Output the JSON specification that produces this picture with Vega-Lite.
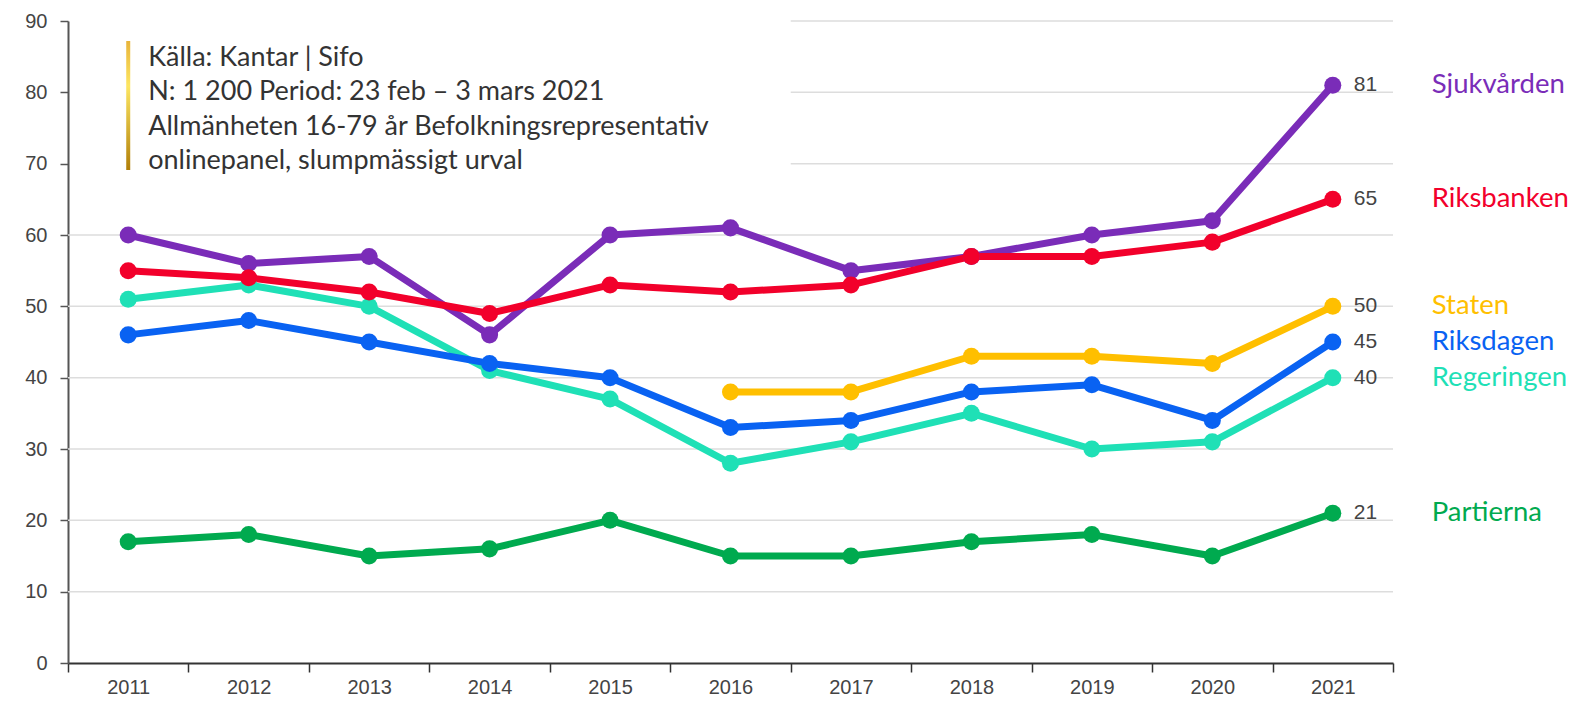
{
  "$schema": "https://vega.github.io/schema/vega-lite/v6.json",
  "width": 1325,
  "height": 642,
  "autosize": {"type": "none"},
  "padding": {"left": 68, "top": 21, "right": 182, "bottom": 40},
  "background": "white",
  "config": {"view": {"stroke": null}},
  "datasets": {
    "series": [
      {"year": 2011, "serie": "Sjukvården", "value": 60},
      {"year": 2012, "serie": "Sjukvården", "value": 56},
      {"year": 2013, "serie": "Sjukvården", "value": 57},
      {"year": 2014, "serie": "Sjukvården", "value": 46},
      {"year": 2015, "serie": "Sjukvården", "value": 60},
      {"year": 2016, "serie": "Sjukvården", "value": 61},
      {"year": 2017, "serie": "Sjukvården", "value": 55},
      {"year": 2018, "serie": "Sjukvården", "value": 57},
      {"year": 2019, "serie": "Sjukvården", "value": 60},
      {"year": 2020, "serie": "Sjukvården", "value": 62},
      {"year": 2021, "serie": "Sjukvården", "value": 81},
      {"year": 2011, "serie": "Regeringen", "value": 51},
      {"year": 2012, "serie": "Regeringen", "value": 53},
      {"year": 2013, "serie": "Regeringen", "value": 50},
      {"year": 2014, "serie": "Regeringen", "value": 41},
      {"year": 2015, "serie": "Regeringen", "value": 37},
      {"year": 2016, "serie": "Regeringen", "value": 28},
      {"year": 2017, "serie": "Regeringen", "value": 31},
      {"year": 2018, "serie": "Regeringen", "value": 35},
      {"year": 2019, "serie": "Regeringen", "value": 30},
      {"year": 2020, "serie": "Regeringen", "value": 31},
      {"year": 2021, "serie": "Regeringen", "value": 40},
      {"year": 2016, "serie": "Staten", "value": 38},
      {"year": 2017, "serie": "Staten", "value": 38},
      {"year": 2018, "serie": "Staten", "value": 43},
      {"year": 2019, "serie": "Staten", "value": 43},
      {"year": 2020, "serie": "Staten", "value": 42},
      {"year": 2021, "serie": "Staten", "value": 50},
      {"year": 2011, "serie": "Riksdagen", "value": 46},
      {"year": 2012, "serie": "Riksdagen", "value": 48},
      {"year": 2013, "serie": "Riksdagen", "value": 45},
      {"year": 2014, "serie": "Riksdagen", "value": 42},
      {"year": 2015, "serie": "Riksdagen", "value": 40},
      {"year": 2016, "serie": "Riksdagen", "value": 33},
      {"year": 2017, "serie": "Riksdagen", "value": 34},
      {"year": 2018, "serie": "Riksdagen", "value": 38},
      {"year": 2019, "serie": "Riksdagen", "value": 39},
      {"year": 2020, "serie": "Riksdagen", "value": 34},
      {"year": 2021, "serie": "Riksdagen", "value": 45},
      {"year": 2011, "serie": "Riksbanken", "value": 55},
      {"year": 2012, "serie": "Riksbanken", "value": 54},
      {"year": 2013, "serie": "Riksbanken", "value": 52},
      {"year": 2014, "serie": "Riksbanken", "value": 49},
      {"year": 2015, "serie": "Riksbanken", "value": 53},
      {"year": 2016, "serie": "Riksbanken", "value": 52},
      {"year": 2017, "serie": "Riksbanken", "value": 53},
      {"year": 2018, "serie": "Riksbanken", "value": 57},
      {"year": 2019, "serie": "Riksbanken", "value": 57},
      {"year": 2020, "serie": "Riksbanken", "value": 59},
      {"year": 2021, "serie": "Riksbanken", "value": 65},
      {"year": 2011, "serie": "Partierna", "value": 17},
      {"year": 2012, "serie": "Partierna", "value": 18},
      {"year": 2013, "serie": "Partierna", "value": 15},
      {"year": 2014, "serie": "Partierna", "value": 16},
      {"year": 2015, "serie": "Partierna", "value": 20},
      {"year": 2016, "serie": "Partierna", "value": 15},
      {"year": 2017, "serie": "Partierna", "value": 15},
      {"year": 2018, "serie": "Partierna", "value": 17},
      {"year": 2019, "serie": "Partierna", "value": 18},
      {"year": 2020, "serie": "Partierna", "value": 15},
      {"year": 2021, "serie": "Partierna", "value": 21}
    ],
    "grid": [
      {"year": 2011, "value": 10},
      {"year": 2011, "value": 20},
      {"year": 2011, "value": 30},
      {"year": 2011, "value": 40},
      {"year": 2011, "value": 50},
      {"year": 2011, "value": 60},
      {"year": 2017, "value": 70},
      {"year": 2017, "value": 80},
      {"year": 2017, "value": 90}
    ],
    "note": [
      {"year": 2011, "value": 86.7, "low": 69.1, "high": 87.2, "text": "Källa: Kantar | Sifo\nN: 1 200 Period: 23 feb – 3 mars 2021\nAllmänheten 16-79 år Befolkningsrepresentativ\nonlinepanel, slumpmässigt urval"}
    ]
  },
  "encoding": {
    "x": {
      "field": "year",
      "type": "ordinal",
      "scale": {"domain": [2011, 2012, 2013, 2014, 2015, 2016, 2017, 2018, 2019, 2020, 2021], "type": "band", "paddingInner": 0, "paddingOuter": 0},
      "axis": {
        "title": null,
        "tickBand": "extent",
        "grid": false,
        "labelAngle": 0,
        "domainColor": "#333333",
        "domainWidth": 2,
        "tickColor": "#333333",
        "tickWidth": 1.5,
        "tickSize": 9,
        "labelFont": "Liberation Sans",
        "labelFontSize": 20,
        "labelColor": "#444444",
        "labelPadding": 5
      }
    }
  },
  "layer": [
    {
      "data": {"name": "grid"},
      "mark": {"type": "rule", "color": "#DDDDDD", "strokeWidth": 1.5},
      "encoding": {
        "x": {"field": "year", "type": "ordinal", "bandPosition": 0},
        "x2": {"value": "width"},
        "y": {"field": "value", "type": "quantitative", "scale": {"domain": [0, 90], "nice": false},
          "axis": {
            "title": null,
            "values": [0, 10, 20, 30, 40, 50, 60, 70, 80, 90],
            "grid": false,
            "domainColor": "#555555",
            "domainWidth": 2,
            "tickColor": "#555555",
            "tickWidth": 1.5,
            "tickSize": 8,
            "labelFont": "Liberation Sans",
            "labelFontSize": 20,
            "labelColor": "#444444",
            "labelPadding": 13
          }
        }
      }
    },
    {
      "data": {"name": "note"},
      "mark": {"type": "bar", "width": 4, "color": {
        "gradient": "linear", "x1": 0, "y1": 0, "x2": 0, "y2": 1,
        "stops": [
          {"offset": 0, "color": "#E8B43A"},
          {"offset": 0.35, "color": "#FDE662"},
          {"offset": 1, "color": "#B07E08"}
        ]
      }},
      "encoding": {
        "y": {"field": "low", "type": "quantitative"},
        "y2": {"field": "high"}
      }
    },
    {
      "data": {"name": "note"},
      "mark": {"type": "text", "align": "left", "baseline": "top", "dx": 20, "lineBreak": "\n", "lineHeight": 34.5, "font": "Lato", "fontSize": 27, "color": "#333333"},
      "encoding": {
        "y": {"field": "value", "type": "quantitative"},
        "text": {"field": "text", "type": "nominal"}
      }
    },
    {
      "data": {"name": "series"},
      "mark": {"type": "line", "strokeWidth": 7, "strokeJoin": "round"},
      "encoding": {
        "y": {"field": "value", "type": "quantitative"},
        "color": {"field": "serie", "type": "nominal", "legend": null,
          "scale": {
            "domain": ["Sjukvården", "Regeringen", "Staten", "Riksdagen", "Riksbanken", "Partierna"],
            "range": ["#7A2CB8", "#1FE0B6", "#FFBF00", "#0962F2", "#F2002B", "#00AA4F"]
          }
        }
      }
    },
    {
      "data": {"name": "series"},
      "mark": {"type": "circle", "size": 290, "opacity": 1},
      "encoding": {
        "y": {"field": "value", "type": "quantitative"},
        "color": {"field": "serie", "type": "nominal", "legend": null}
      }
    },
    {
      "data": {"name": "series"},
      "transform": [{"filter": "datum.year == 2021"}],
      "mark": {"type": "text", "align": "left", "baseline": "middle", "dx": 21, "font": "Liberation Sans", "fontSize": 21, "color": "#444444"},
      "encoding": {
        "y": {"field": "value", "type": "quantitative"},
        "text": {"field": "value", "type": "quantitative"}
      }
    },
    {
      "data": {"name": "series"},
      "transform": [{"filter": "datum.year == 2021"}],
      "mark": {"type": "text", "align": "left", "baseline": "middle", "dx": 99, "font": "Lato", "fontSize": 27.5},
      "encoding": {
        "y": {"field": "value", "type": "quantitative"},
        "text": {"field": "serie", "type": "nominal"},
        "color": {"field": "serie", "type": "nominal", "legend": null}
      }
    }
  ]
}
